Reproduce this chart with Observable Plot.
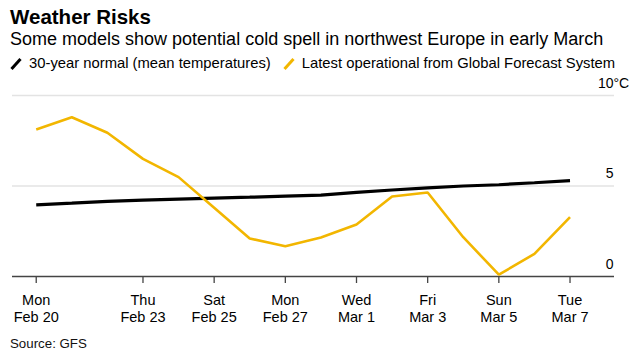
<!DOCTYPE html>
<html><head><meta charset="utf-8">
<script src="https://cdn.jsdelivr.net/npm/d3@7"></script>
<script src="https://cdn.jsdelivr.net/npm/@observablehq/plot@0.6"></script>
<style>
html,body{margin:0;padding:0;background:#fff}
body{font-family:"Liberation Sans",Arial,sans-serif;width:640px;height:360px;overflow:hidden;position:relative;color:#000}
#title{position:absolute;left:10px;top:5px;font-weight:bold;font-size:20.5px;line-height:24px;white-space:nowrap}
#subtitle{position:absolute;left:10px;top:29px;font-size:18px;line-height:21px;white-space:nowrap}
#legend{position:absolute;left:10px;top:55px;font-size:14.8px;line-height:17px;white-space:nowrap;display:flex;align-items:center}
#legend .item{display:flex;align-items:center;margin-right:12px}
#legend svg{margin-right:7px}
#chart{position:absolute;left:0;top:72px}
#source{position:absolute;left:10px;top:336px;font-size:13.3px;line-height:15px;color:#111}
</style>
</head><body>
<div id="title">Weather Risks</div>
<div id="subtitle">Some models show potential cold spell in northwest Europe in early March</div>
<div id="legend"></div>
<div id="chart"></div>
<div id="source">Source: GFS</div>
<script>
const dates = ["2023-02-20","2023-02-21","2023-02-22","2023-02-23","2023-02-24","2023-02-25","2023-02-26","2023-02-27","2023-02-28","2023-03-01","2023-03-02","2023-03-03","2023-03-04","2023-03-05","2023-03-06","2023-03-07"];
const normal = [3.96,4.05,4.15,4.22,4.28,4.33,4.38,4.44,4.50,4.65,4.78,4.90,5.00,5.07,5.18,5.30];
const gfs = [8.12,8.80,7.94,6.50,5.49,3.80,2.10,1.67,2.15,2.87,4.42,4.64,2.17,0.10,1.25,3.28];
const seriesNames = ["30-year normal (mean temperatures)","Latest operational from Global Forecast System"];
const seriesColors = ["#000000","#f2b600"];
const tickDates = ["2023-02-20","2023-02-23","2023-02-25","2023-02-27","2023-03-01","2023-03-03","2023-03-05","2023-03-07"];
const tickDays = ["Mon","Thu","Sat","Mon","Wed","Fri","Sun","Tue"];
const tickLabels = ["Feb 20","Feb 23","Feb 25","Feb 27","Mar 1","Mar 3","Mar 5","Mar 7"];
const yTicks = [0,5,10];
const yTickLabels = ["0","5","10"];
const yUnit = "°C";

const data = [];
dates.forEach((d,i)=>{
  data.push({date:new Date(d), value:normal[i], series:seriesNames[0]});
});
dates.forEach((d,i)=>{
  data.push({date:new Date(d), value:gfs[i], series:seriesNames[1]});
});
const tickDateObjs = tickDates.map(d=>new Date(d));

// legend
const legend = document.getElementById("legend");
seriesNames.forEach((n,i)=>{
  const it = document.createElement("div");
  it.className="item";
  it.innerHTML = `<svg width="12" height="12" viewBox="0 0 12 12"><line x1="1.5" y1="11" x2="10.5" y2="1" stroke="${seriesColors[i]}" stroke-width="3"/></svg><span>${n}</span>`;
  legend.appendChild(it);
});

const xDomain = [new Date("2023-02-19T08:00Z"), new Date("2023-03-08T06:00Z")];

const chart = Plot.plot({
  width:640, height:268,
  marginLeft:12, marginRight:26, marginTop:23, marginBottom:64,
  style:{fontFamily:'"Liberation Sans",Arial,sans-serif', fontSize:"14px", color:"#000", background:"#fff"},
  x:{type:"utc", domain:xDomain},
  y:{domain:[0,10]},
  marks:[
    Plot.ruleY(yTicks.filter(t=>t>0),{stroke:"#e3e3e3", strokeWidth:1.3}),
    Plot.ruleY([0],{stroke:"#444", strokeWidth:1.3}),
    Plot.axisX(tickDateObjs,{
      tickSize:7, tickPadding:9, stroke:"#444", strokeWidth:1.3,
      fontSize:14.5, lineHeight:1.17, fill:"#000", label:null,
      tickFormat:d=>{const i=tickDateObjs.findIndex(t=>+t===+d); return tickDays[i]+"\n"+tickLabels[i];}
    }),
    Plot.axisY(yTicks,{
      anchor:"right", tickSize:0, tickPadding:-1, textAnchor:"end", lineAnchor:"bottom", dy:-8,
      fontSize:14, fill:"#000", label:null,
      tickFormat:d=>yTickLabels[yTicks.indexOf(d)]
    }),
    Plot.text([yTicks[yTicks.length-1]],{
      x:()=>xDomain[1], y:d=>d, text:()=>yUnit, textAnchor:"start", lineAnchor:"bottom",
      dx:-1, dy:-8, fontSize:14, fill:"#000"
    }),
    Plot.line(data,{x:"date", y:"value", z:"series",
      stroke:d=>seriesColors[seriesNames.indexOf(d.series)], strokeWidth:d=>d.series===seriesNames[0]?3.2:2.6,
      strokeLinejoin:"miter", strokeLinecap:"butt"})
  ]
});
document.getElementById("chart").appendChild(chart);
</script>
</body></html>
